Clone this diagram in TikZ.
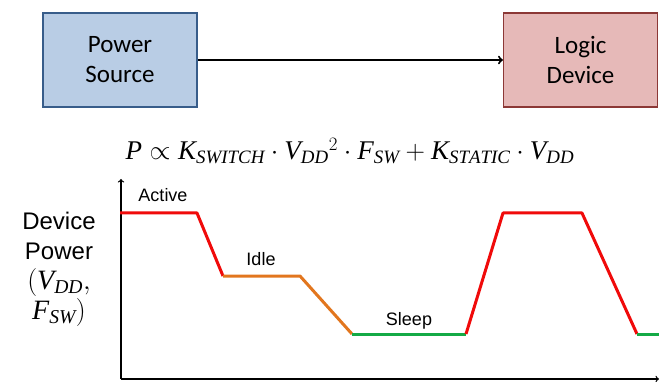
\documentclass[tikz,border=0pt]{standalone}
\usepackage{fix-cm}
\usepackage{fontspec}
\setmainfont{Liberation Serif}
\newfontfamily\calibri{Carlito}
\newfontfamily\arial{Liberation Sans}
\definecolor{boxblue}{RGB}{185,205,229}
\definecolor{lineblue}{RGB}{56,93,138}
\definecolor{boxpink}{RGB}{230,185,184}
\definecolor{linepink}{RGB}{140,56,54}
\definecolor{lvred}{RGB}{240,10,10}
\definecolor{lvorange}{RGB}{226,118,30}
\definecolor{lvgreen}{RGB}{20,170,70}
\tikzset{
  blockbox/.style={draw,line width=1.2pt,minimum width=154pt,minimum height=94pt,inner sep=0pt,
    align=center,font=\calibri\fontsize{25}{30}\selectfont},
  lvl/.style={line width=3pt,line join=round},
  statelbl/.style={font=\arial\fontsize{18}{20}\selectfont,inner sep=0pt}
}
\begin{document}
\begin{tikzpicture}[x=1pt,y=-1pt]
\useasboundingbox (0,0) rectangle (664,382);
\node[blockbox,fill=boxblue,draw=lineblue] (psrc) at (120,60) {Power\\Source};
\node[blockbox,fill=boxpink,draw=linepink] (ldev) at (580.5,60) {Logic\\Device};
\draw[->,line width=2pt] (psrc) -- (ldev);
\node[font=\fontsize{27}{33}\selectfont] (frml) at (350,151)
  {$\mathit{P}\propto\mathit{K}_{\mathit{SWITCH}}\cdot\mathit{V}_{\mathit{DD}}{}^{2}\cdot\mathit{F}_{\mathit{SW}}+\mathit{K}_{\mathit{STATIC}}\cdot\mathit{V}_{\mathit{DD}}$};
\coordinate (org) at (121,379);
\coordinate (ytip) at (121,179);
\coordinate (xtip) at (659,379);
\draw[->,line width=1.3pt] (org) -- (ytip);
\draw[->,line width=1.3pt] (org) -- (xtip);
\node[align=center,font=\arial\fontsize{24}{30}\selectfont] (ylbl) at (59,269)
  {Device\\Power\\{\fontsize{28}{30}\selectfont$(\mathit{V}_{\mathit{DD}},$}\\{\fontsize{28}{28}\selectfont$\mathit{F}_{\mathit{SW}})$}};
\draw[lvl,lvred] (120,213) -- (197,213) -- (223,276);
\draw[lvl,lvorange] (223,276) -- (300,276) -- (352,334);
\draw[lvl,lvgreen] (352,334) -- (466,334);
\draw[lvl,lvred] (466,334) -- (503,213) -- (582,213) -- (637,334);
\draw[lvl,lvgreen] (637,334) -- (659,334);
\node[statelbl] (actv) at (163,195) {Active};
\node[statelbl] (idle) at (261,259) {Idle};
\node[statelbl] (slp) at (409,321) {Sleep};
\end{tikzpicture}
\end{document}
